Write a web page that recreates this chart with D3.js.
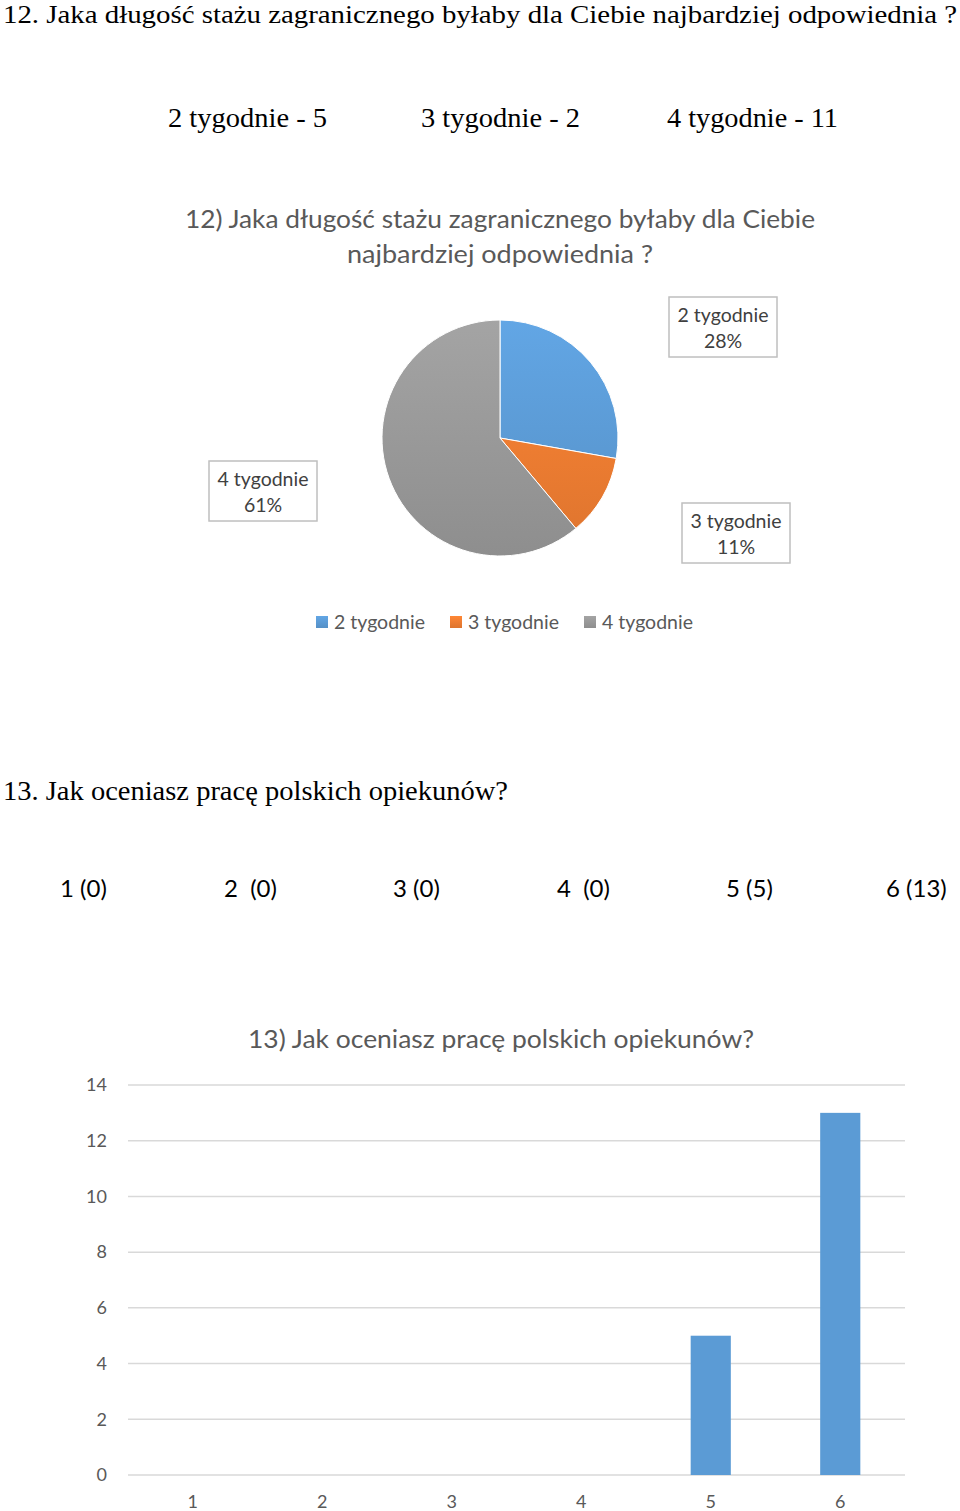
<!DOCTYPE html>
<html>
<head>
<meta charset="utf-8">
<script src="https://cdn.jsdelivr.net/npm/d3@7"></script>
<style>
  body { margin: 0; background: #fff; }
  svg { display: block; }
</style>
</head>
<body>
<div class="inner-content"></div>
<script>
// question 12 - pie
var stazCategories = ["2 tygodnie", "3 tygodnie", "4 tygodnie"];
var stazValues = [5, 2, 11];
var stazColours = ["#5b9bd5", "#ed7d31", "#999999"];

// question 13 - bars
var ocenaCategories = ["1", "2", "3", "4", "5", "6"];
var ocenaValues = [0, 0, 0, 0, 5, 13];
var ocenaLabels = ["1 (0)", "2  (0)", "3 (0)", "4  (0)", "5 (5)", "6 (13)"];
var yTicks = [0, 2, 4, 6, 8, 10, 12, 14];

var serif = "'Liberation Serif', 'Times New Roman', serif";
var sans = "Lato, 'Noto Sans', sans-serif";

var svg = d3.select(".inner-content")
  .append("svg")
    .attr("width", 960)
    .attr("height", 1511);

// ---------- header texts ----------
svg.append("text")
  .attr("x", 3).attr("y", 23)
  .attr("textLength", 954).attr("lengthAdjust", "spacingAndGlyphs")
  .style("font-family", serif).style("font-size", "25px").style("fill", "#000")
  .text("12.  Jaka długość stażu zagranicznego byłaby dla Ciebie najbardziej odpowiednia ?");

var countX = [168, 421, 667];
var countW = [159, 159, 171];
stazCategories.forEach(function(c, i) {
  svg.append("text")
    .attr("x", countX[i]).attr("y", 127)
    .attr("textLength", countW[i]).attr("lengthAdjust", "spacingAndGlyphs")
    .style("font-family", serif).style("font-size", "27px").style("fill", "#000")
    .text(c + " - " + stazValues[i]);
});

// ---------- pie ----------
svg.append("text")
  .attr("x", 500).attr("y", 228).attr("text-anchor", "middle")
  .attr("textLength", 630).attr("lengthAdjust", "spacingAndGlyphs")
  .style("font-family", sans).style("font-size", "25px").style("fill", "#595959")
  .text("12) Jaka długość stażu zagranicznego byłaby dla Ciebie");
svg.append("text")
  .attr("x", 500).attr("y", 263).attr("text-anchor", "middle")
  .attr("textLength", 306).attr("lengthAdjust", "spacingAndGlyphs")
  .style("font-family", sans).style("font-size", "25px").style("fill", "#595959")
  .text("najbardziej odpowiednia ?");

var defs = svg.append("defs");
stazColours.forEach(function(col, i) {
  var g = defs.append("linearGradient")
    .attr("id", "grad" + i)
    .attr("gradientUnits", "userSpaceOnUse")
    .attr("x1", 0).attr("y1", -118).attr("x2", 0).attr("y2", 118);
  g.append("stop").attr("offset", "0%").attr("stop-color", d3.color(col).brighter(0.2));
  g.append("stop").attr("offset", "100%").attr("stop-color", d3.color(col).darker(0.2));
});

var pieG = svg.append("g").attr("transform", "translate(500, 438)");
var pie = d3.pie().sort(null).value(d => d);
var arc = d3.arc().innerRadius(0).outerRadius(118);
var total = d3.sum(stazValues);

pieG.selectAll("path")
  .data(pie(stazValues))
  .enter()
  .append("path")
    .attr("d", arc)
    .style("fill", (d, i) => "url(#grad" + i + ")")
    .style("stroke", "#fff")
    .style("stroke-width", 1);

// data label boxes (Excel best-fit positions, relative to pie centre)
var labelOffsets = [[223, -111], [236, 95], [-237, 53]];
var boxes = pieG.selectAll(".lbl")
  .data(pie(stazValues))
  .enter()
  .append("g")
    .attr("class", "lbl")
    .attr("transform", (d, i) => "translate(" + labelOffsets[i][0] + "," + labelOffsets[i][1] + ")");
boxes.append("rect")
  .attr("x", -54).attr("y", -30).attr("width", 108).attr("height", 60)
  .style("fill", "#fff").style("stroke", "#bfbfbf").style("stroke-width", 1.5);
boxes.append("text")
  .attr("text-anchor", "middle").attr("y", -5)
  .style("font-family", sans).style("font-size", "19.5px").style("fill", "#404040")
  .text((d, i) => stazCategories[i]);
boxes.append("text")
  .attr("text-anchor", "middle").attr("y", 21)
  .style("font-family", sans).style("font-size", "19.5px").style("fill", "#404040")
  .text(d => Math.round(d.value / total * 100) + "%");

// legend
stazColours.forEach(function(col, i) {
  var g = defs.append("linearGradient").attr("id", "lg" + i).attr("x1", 0).attr("y1", 0).attr("x2", 0).attr("y2", 1);
  g.append("stop").attr("offset", "0%").attr("stop-color", d3.color(col).brighter(0.2));
  g.append("stop").attr("offset", "100%").attr("stop-color", d3.color(col).darker(0.2));
});
var legendX = [316, 450, 584];
var legend = svg.selectAll(".legend")
  .data(stazCategories)
  .enter()
  .append("g")
    .attr("transform", (d, i) => "translate(" + legendX[i] + ", 616)");
legend.append("rect")
  .attr("width", 12).attr("height", 12)
  .style("fill", (d, i) => "url(#lg" + i + ")");
legend.append("text")
  .attr("x", 18).attr("y", 13)
  .style("font-family", sans).style("font-size", "19.5px").style("fill", "#595959")
  .text(d => d);

// ---------- question 13 ----------
svg.append("text")
  .attr("x", 3).attr("y", 800)
  .attr("textLength", 505).attr("lengthAdjust", "spacingAndGlyphs")
  .style("font-family", serif).style("font-size", "27px").style("fill", "#000")
  .text("13. Jak oceniasz pracę polskich opiekunów?");

var answerX = [60, 224, 393, 557, 726, 886];
ocenaLabels.forEach(function(t, i) {
  svg.append("text")
    .attr("x", answerX[i]).attr("y", 897)
    .style("font-family", sans).style("font-size", "24px").style("fill", "#000")
    .style("white-space", "pre").attr("xml:space", "preserve")
    .text(t);
});

svg.append("text")
  .attr("x", 501).attr("y", 1048).attr("text-anchor", "middle")
  .attr("textLength", 506).attr("lengthAdjust", "spacingAndGlyphs")
  .style("font-family", sans).style("font-size", "25px").style("fill", "#595959")
  .text("13) Jak oceniasz pracę polskich opiekunów?");

var x = d3.scaleBand()
  .domain(ocenaCategories)
  .range([128, 905])
  .paddingInner(0.69)
  .paddingOuter(0.345);
var y = d3.scaleLinear()
  .domain([0, 14])
  .range([1475, 1085]);

svg.append("g")
  .selectAll("line")
  .data(yTicks)
  .enter()
  .append("line")
    .attr("x1", 128).attr("x2", 905)
    .attr("y1", d => y(d)).attr("y2", d => y(d))
    .style("stroke", "#d9d9d9").style("stroke-width", 1.5);

var yAxis = svg.append("g")
  .attr("transform", "translate(107, 0)")
  .call(d3.axisLeft(y).tickValues(yTicks).tickSize(0).tickPadding(0));
yAxis.select(".domain").remove();
yAxis.selectAll("text")
  .style("font-family", sans).style("font-size", "18px").style("fill", "#595959");

svg.selectAll(".bar")
  .data(ocenaValues)
  .enter()
  .append("rect")
    .attr("class", "bar")
    .attr("x", (d, i) => x(ocenaCategories[i]))
    .attr("width", x.bandwidth())
    .attr("y", d => y(d))
    .attr("height", d => y(0) - y(d))
    .style("fill", "#5b9bd5");

var xAxis = svg.append("g")
  .attr("transform", "translate(0, 1475)")
  .call(d3.axisBottom(x).tickSize(0).tickPadding(20));
xAxis.select(".domain").remove();
xAxis.selectAll("text")
  .style("font-family", sans).style("font-size", "18px").style("fill", "#595959");
</script>
</body>
</html>
